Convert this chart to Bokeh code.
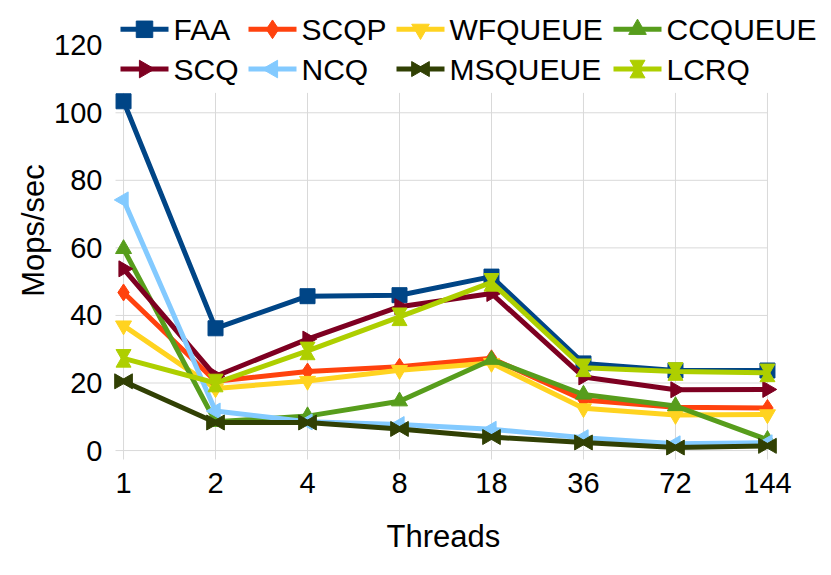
import math
from bokeh.plotting import figure
from bokeh.models import Range1d, FixedTicker, ColumnDataSource, Label, Title
from bokeh.transform import dodge
from bokeh.embed import file_html
from bokeh.resources import INLINE

# ---- data ----
threads = ["1", "2", "4", "8", "18", "36", "72", "144"]
y_ticks = [0, 20, 40, 60, 80, 100, 120]

faa = [103.4, 36.2, 45.7, 46.0, 51.5, 25.8, 23.7, 23.7]
scqp = [46.8, 20.5, 23.4, 24.8, 27.3, 15.0, 12.8, 12.6]
wfqueue = [37.0, 18.4, 20.6, 23.8, 25.9, 12.5, 10.5, 10.7]
ccqueue = [59.7, 8.5, 10.2, 14.6, 26.9, 16.6, 13.2, 3.2]
scq = [53.8, 22.0, 33.0, 42.6, 46.5, 21.8, 18.0, 18.1]
ncq = [74.2, 11.7, 8.5, 7.7, 6.3, 3.8, 2.0, 2.3]
msqueue = [20.5, 8.3, 8.3, 6.4, 4.0, 2.4, 0.9, 1.4]
lcrq = [27.3, 20.0, 29.5, 39.6, 49.8, 24.5, 23.4, 23.0]

names = ["FAA", "SCQP", "WFQUEUE", "CCQUEUE", "SCQ", "NCQ", "MSQUEUE", "LCRQ"]
values = [faa, scqp, wfqueue, ccqueue, scq, ncq, msqueue, lcrq]
colors = ["#004586", "#ff420e", "#ffd320", "#579d1c", "#7e0021", "#83caff", "#314004", "#aecf00"]

FONT = "Liberation Sans"
GRID = "#d9d9d9"

# ---- layout (pixels) ----
W, H = 831, 575
FL = 112                   # frame left
FW = W - FL                # frame reaches the right edge (room for the legend)
FH = 463                   # frame height (top at figure top)
PX = 7.24 / 666.0          # data units per px (x)
X0 = -0.12
X1 = X0 + FW * PX
Y1 = 120 + 45 / 3.4
Y0 = 120 - (FH - 45) / 3.4
PY = (Y1 - Y0) / FH        # data units per px (y)


def sx2x(sx):  # page x -> data x
    return X0 + (sx - FL) * PX


def sy2y(sy):  # page y -> data y
    return Y1 - sy * PY


idx = list(range(len(threads)))

p = figure(width=W, height=H, output_backend="svg", toolbar_location=None, title=None,
           x_range=Range1d(X0, X1), y_range=Range1d(Y0, Y1),
           min_border_left=FL, min_border_right=0, min_border_top=0,
           min_border_bottom=H - FH)
p.outline_line_color = None
p.background_fill_color = "white"
p.border_fill_color = "white"
p.xgrid.visible = False
p.ygrid.visible = False

# grid lines (with their outward tick stubs)
n = len(idx)
p.segment(x0=idx, x1=idx, y0=[sy2y(462)] * n, y1=[sy2y(93)] * n, line_color=GRID, line_width=1)
hy = [t for t in y_ticks if t <= 100]
p.segment(x0=[sx2x(115)] * len(hy), x1=[idx[-1]] * len(hy), y0=hy, y1=hy,
          line_color=GRID, line_width=1)

# axes
p.xaxis.ticker = FixedTicker(ticks=idx)
p.xaxis.major_label_overrides = {i: t for i, t in enumerate(threads)}
p.yaxis.ticker = FixedTicker(ticks=y_ticks)
for ax in (p.xaxis, p.yaxis):
    ax.axis_line_color = None
    ax.major_tick_line_color = None
    ax.minor_tick_line_color = None
    ax.major_label_text_font = FONT
    ax.major_label_text_font_size = "29px"
    ax.major_label_text_color = "black"
    ax.axis_label_text_font = FONT
    ax.axis_label_text_font_size = "31px"
    ax.axis_label_text_font_style = "normal"
    ax.axis_label_text_color = "black"
p.yaxis.axis_label = "Mops/sec"
p.xaxis.major_label_standoff = 6
p.yaxis.major_label_standoff = 4
p.yaxis.axis_label_standoff = 0

# x-axis title, centred under the plotted categories
p.add_layout(Title(text="Threads", align="left", offset=274, standoff=43,
                   text_font=FONT, text_font_size="31px", text_font_style="normal",
                   text_color="black"), "below")


def add_markers(name, col, src, big=1.0):
    kw = dict(source=src, fill_color=col, line_color=col, line_width=1)
    if name == "FAA":
        p.scatter("x", "y", marker="square", size=15 * big, **kw)
    elif name == "SCQP":
        p.scatter("x", "y", marker="diamond", size=17 * big, **kw)
    elif name == "WFQUEUE":
        p.scatter("x", "y", marker="inverted_triangle", size=16 * big, **kw)
    elif name == "CCQUEUE":
        p.scatter("x", "y", marker="triangle", size=16 * big, **kw)
    elif name == "SCQ":
        p.scatter("x", "y", marker="triangle", angle=-math.pi / 2, size=16 * big, **kw)
    elif name == "NCQ":
        p.scatter("x", "y", marker="triangle", angle=math.pi / 2, size=16 * big, **kw)
    elif name == "MSQUEUE":
        p.scatter(dodge("x", -4.5 * PX), "y", marker="triangle", angle=-math.pi / 2, size=15, **kw)
        p.scatter(dodge("x", 4.5 * PX), "y", marker="triangle", angle=math.pi / 2, size=15, **kw)
    elif name == "LCRQ":
        p.scatter("x", dodge("y", 4.5 * PY), marker="inverted_triangle", size=15, **kw)
        p.scatter("x", dodge("y", -4.5 * PY), marker="triangle", size=15, **kw)


for name, vals, col in zip(names, values, colors):
    src = ColumnDataSource(dict(x=idx, y=vals))
    p.line("x", "y", source=src, line_color=col, line_width=5)
    add_markers(name, col, src)

# ---- legend (two rows, four columns) ----
col_x = [120, 248, 396, 613]
row_y = [29, 69]
for k, (name, col) in enumerate(zip(names, colors)):
    gx = col_x[k % 4]
    gy = row_y[k // 4]
    p.segment(x0=[sx2x(gx)], x1=[sx2x(gx + 48)], y0=[sy2y(gy)], y1=[sy2y(gy)],
              line_color=col, line_width=5)
    lsrc = ColumnDataSource(dict(x=[sx2x(gx + 24)], y=[sy2y(gy)]))
    add_markers(name, col, lsrc, big=1.1)
    p.add_layout(Label(x=sx2x(gx + 53), y=sy2y(gy), text=name, text_font=FONT,
                       text_font_size="30px", text_color="black", text_align="left",
                       text_baseline="middle"))

open("out.html", "w").write(file_html(p, INLINE))
